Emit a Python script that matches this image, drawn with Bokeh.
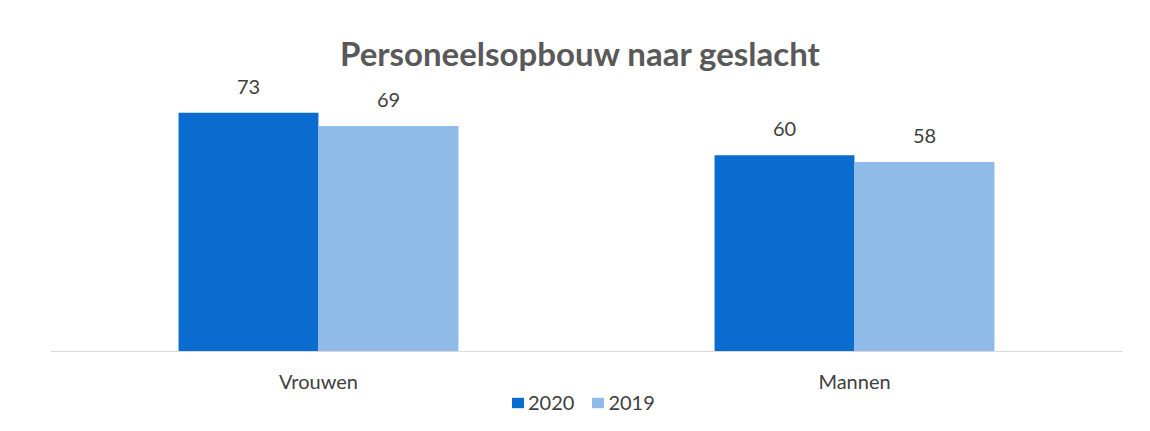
from bokeh.plotting import figure
from bokeh.models import ColumnDataSource, FactorRange, Range1d, Label, Legend, LegendItem
from bokeh.transform import dodge
from bokeh.core.properties import value
from bokeh.embed import file_html
from bokeh.resources import INLINE

categories = ["Vrouwen", "Mannen"]
values_2020 = [73, 60]
values_2019 = [69, 58]
series_names = ["2020", "2019"]
title_text = "Personeelsopbouw naar geslacht"

FONT = "Lato"
DARK = "#0A6CCF"
LIGHT = "#8EBBE8"
TEXT = "#404040"

src = ColumnDataSource(dict(
    cat=categories,
    v2020=values_2020,
    v2019=values_2019,
    l2020=[str(v) for v in values_2020],
    l2019=[str(v) for v in values_2019],
))

p = figure(frame_width=1072, frame_height=395, x_range=FactorRange(*categories),
           y_range=Range1d(-22.0, 98.8), output_backend="svg", toolbar_location=None,
           min_border_left=50, min_border_right=20, min_border_top=28, min_border_bottom=0)
p.outline_line_color = None
p.grid.visible = False
p.yaxis.visible = False
p.background_fill_color = "white"
p.border_fill_color = "white"

off = 0.1306
w = 0.261
r1 = p.vbar(x=dodge("cat", -off, range=p.x_range), top="v2020", width=w, source=src,
            fill_color=DARK, line_color=None)
r2 = p.vbar(x=dodge("cat", off, range=p.x_range), top="v2019", width=w, source=src,
            fill_color=LIGHT, line_color=None)

p.text(x=dodge("cat", -off, range=p.x_range), y="v2020", text="l2020", source=src,
       text_align="center", text_baseline="middle", y_offset=-26,
       text_font=value(FONT), text_font_size="20px", text_color=TEXT)
p.text(x=dodge("cat", off, range=p.x_range), y="v2019", text="l2019", source=src,
       text_align="center", text_baseline="middle", y_offset=-26,
       text_font=value(FONT), text_font_size="20px", text_color=TEXT)

p.add_layout(Label(x=0.989, y=91.2, text=title_text, text_align="center",
                   text_baseline="middle", text_font=FONT, text_font_size="33px",
                   text_font_style="bold", text_color="#595959"))

ax = p.xaxis[0]
ax.fixed_location = 0
ax.axis_line_color = "#D9D9D9"
ax.axis_line_width = 1
ax.major_tick_line_color = None
ax.minor_tick_line_color = None
ax.major_label_standoff = 11
ax.major_label_text_font = FONT
ax.major_label_text_font_size = "20px"
ax.major_label_text_color = TEXT

legend = Legend(items=[LegendItem(label=series_names[0], renderers=[r1]),
                       LegendItem(label=series_names[1], renderers=[r2])],
                orientation="horizontal", location=(460, 9),
                label_text_font=FONT, label_text_font_size="20px",
                label_text_color=TEXT, glyph_width=15, glyph_height=13,
                label_standoff=3, spacing=16, padding=2, margin=0,
                border_line_color=None, background_fill_alpha=0)
p.add_layout(legend)

open("out.html", "w").write(file_html(p, INLINE))
